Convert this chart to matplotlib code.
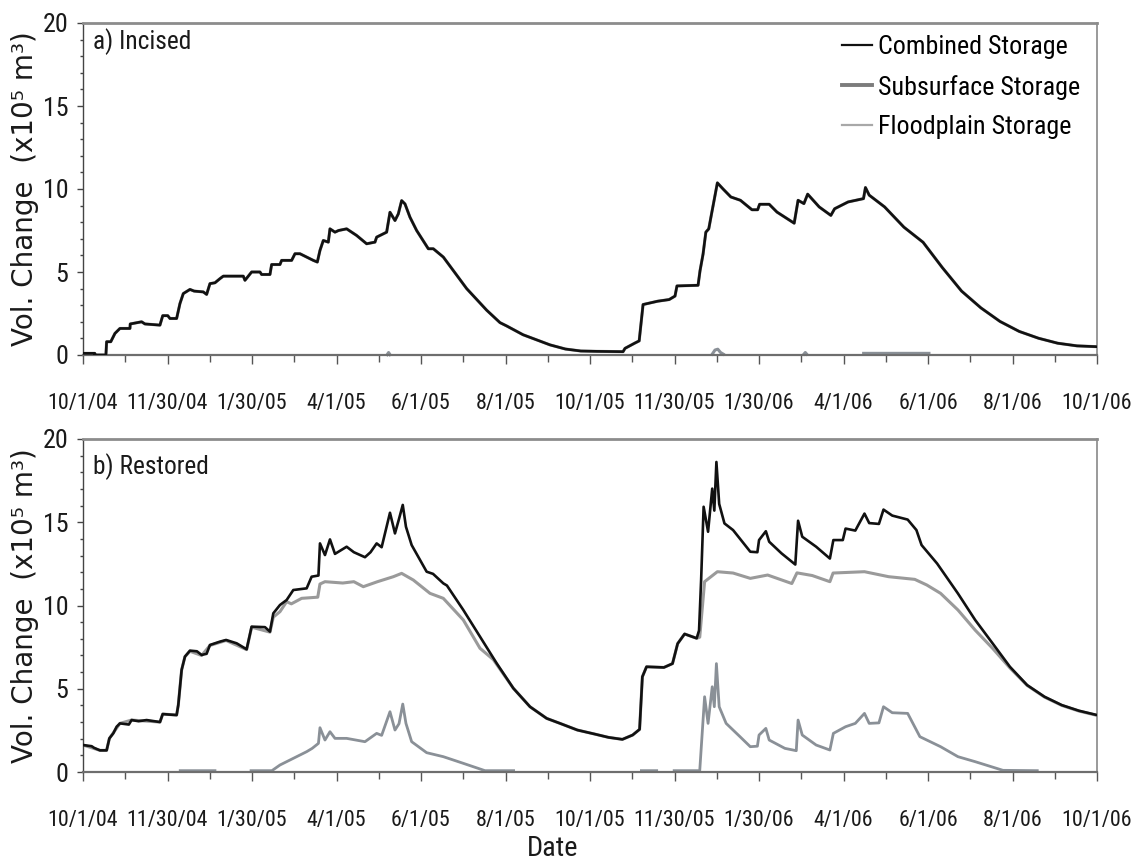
import os
import numpy as np
import matplotlib
matplotlib.use("Agg")
import matplotlib.pyplot as plt
from matplotlib import font_manager
from matplotlib.font_manager import FontProperties
from matplotlib.textpath import TextPath
from matplotlib.lines import Line2D
from matplotlib.ticker import FixedLocator, MultipleLocator

# ---------------------------------------------------------------------------
# Data: days since 10/1/04, storage change in units of 1e5 m^3
# ---------------------------------------------------------------------------
tick_labels = ["10/1/04", "11/30/04", "1/30/05", "4/1/05", "6/1/05", "8/1/05",
               "10/1/05", "11/30/05", "1/30/06", "4/1/06", "6/1/06", "8/1/06",
               "10/1/06"]

# a) Incised -- combined storage
inc_comb_day = [0, 8.5, 8.6, 16.5, 17, 20, 23, 26.6, 33.8, 34, 42.2, 44.6, 55.4,
                57.4, 61, 62.6, 67.4, 69.8, 72.2, 77, 80, 86.6, 89, 91.4, 95,
                98.6, 101, 115.4, 116.6, 119, 121.4, 127.4, 128.6, 134.6, 135.8,
                141.8, 143, 150.2, 152.6, 156.2, 165.8, 168.7, 170.6, 173, 176.6,
                177.8, 181.4, 184, 189.8, 197, 204.2, 210.2, 211.4, 216.2, 218.6,
                221, 224.6, 227, 229.4, 231.8, 235.4, 240.2, 248.6, 252.2, 259.4,
                276.2, 290.6, 300.2, 305, 316.8, 336.2, 347.3, 358.4, 370, 388.8,
                390.2, 397.1, 400.4, 403.2, 413.7, 422, 426.2, 427.6, 442.8,
                444.2, 446.4, 448.4, 450.5, 452.5, 453.9, 456.7, 460.8, 466.4,
                473.3, 481.6, 485.7, 487.1, 494, 499.6, 512, 514.8, 519, 521.7,
                530, 538.4, 541.1, 550.8, 561.9, 563.3, 566, 577.1, 591, 604.8,
                618.6, 632.5, 646.4, 660.2, 674, 687.9, 701.7, 715.6, 730]
inc_comb_val = [0.1, 0.1, 0, 0, 0.8, 0.8, 1.3, 1.6, 1.6, 1.87, 2.0, 1.87, 1.8,
                2.37, 2.37, 2.2, 2.2, 3.1, 3.7, 3.95, 3.85, 3.8, 3.65, 4.3, 4.35,
                4.6, 4.75, 4.75, 4.5, 4.75, 5.0, 5.0, 4.85, 4.85, 5.45,
                5.45, 5.7, 5.7, 6.1, 6.1, 5.7, 5.6, 6.3, 6.9, 6.8,
                7.6, 7.4, 7.5, 7.6, 7.2, 6.7, 6.8, 7.1, 7.3, 7.4,
                8.6, 8.1, 8.5, 9.3, 9.1, 8.3, 7.5, 6.4, 6.4, 5.9,
                4.0, 2.7, 1.95, 1.75, 1.22, 0.61, 0.36, 0.24, 0.22, 0.2,
                0.4, 0.71, 0.85, 3.04, 3.24, 3.34, 3.55, 4.16, 4.2,
                5.07, 6.08, 7.4, 7.6, 8.5, 9.12, 10.37, 10.0, 9.52,
                9.32, 8.75, 8.75, 9.08, 9.08, 8.61, 7.94, 9.32, 9.12, 9.69,
                8.92, 8.41, 8.81, 9.22, 9.42, 10.09, 9.63, 8.92, 7.7, 6.79,
                5.27, 3.85, 2.84, 2.02, 1.42, 1.01, 0.71, 0.55, 0.5]

# a) Incised -- subsurface storage runs on top of the combined curve
inc_sub_day = inc_comb_day
inc_sub_val = inc_comb_val

# a) Incised -- floodplain storage (only brief, small amounts; gaps = none)
inc_fp_day = [219, 220, 221, np.nan, 453, 455, 457, 459, 461, np.nan,
              519, 520, 521, np.nan, 562, 609]
inc_fp_val = [0.02, 0.15, 0.02, np.nan, 0.05, 0.3, 0.35, 0.15, 0.05, np.nan,
              0.05, 0.15, 0.05, np.nan, 0.1, 0.1]

# b) Restored -- combined storage
res_comb_day = [0, 6.2, 8, 12.2, 17, 19, 21.8, 24.2, 26.6, 33, 35, 40, 45.8,
                55.4, 57.4, 62, 67.4, 68.6, 71, 73.4, 77, 82, 85.4, 89, 91.4,
                98.6, 103, 110.6, 117.8, 121.4, 131, 134.6, 137, 141.8, 146.6,
                151.4, 161, 164.6, 169.5, 170.6, 174.2, 177.8, 181.4, 189.8, 195,
                203, 207, 211.4, 215, 221, 224.6, 227.5, 230.2, 232.5, 236.6,
                247.4, 252, 259.4, 262, 273.8, 285.8, 297.8, 309.8, 321.8, 333.8,
                343.4, 355.9, 368.3, 378.3, 388.3, 395.7, 400.7, 402.7, 405.7,
                418.2, 424.4, 428.1, 433.1, 441.8, 443.5, 445, 446.8, 450, 453,
                454.5, 456, 458, 461.8, 468, 480.4, 485.5, 486.7, 491.6, 494,
                502.9, 512.8, 514.8, 517.8, 527.8, 537.7, 540.2, 547, 549, 556,
                562.6, 566, 573, 576.3, 582.6, 593.7, 600, 603.7, 614.9, 629.9,
                642.3, 654.8, 667.3, 679.7, 692.2, 704.6, 717, 730]
res_comb_val = [1.62, 1.55, 1.45, 1.3, 1.3, 2.02, 2.32, 2.72, 2.92, 2.85, 3.12,
                3.05, 3.12, 3.0, 3.48, 3.45, 3.42, 4.02, 6.13, 6.93, 7.29, 7.25,
                7.03, 7.1, 7.63, 7.83, 7.93, 7.73, 7.37, 8.73, 8.7, 8.43, 9.53,
                10.03, 10.33, 10.93, 11.03, 11.73, 11.8, 13.73, 13.03, 13.97,
                13.1, 13.53, 13.2, 12.9, 13.2, 13.73, 13.5, 15.57, 14.33, 15.2,
                16.04, 14.73, 13.63, 12.03, 11.9, 11.33, 11.2, 9.73, 8.13, 6.53,
                5.03, 3.92, 3.22, 2.92, 2.52, 2.28, 2.08, 1.96, 2.22, 2.56, 5.72,
                6.32, 6.28, 6.51, 7.71, 8.29, 8.03, 8.5, 11.53, 15.93, 14.43,
                17.02, 15.7, 18.62, 16.1, 14.93, 14.53, 13.23, 13.2, 13.93,
                14.46, 13.83, 13.13, 12.46, 15.09, 14.13, 13.53, 12.82, 13.93,
                13.93, 14.62, 14.5, 15.52, 14.95, 14.9, 15.76, 15.4, 15.16,
                14.53, 13.63, 12.52, 10.72, 9.13, 7.73, 6.32, 5.22, 4.52, 4.02,
                3.68, 3.42]

# b) Restored -- subsurface storage
res_sub_day = [0, 12.2, 17, 19, 26.6, 35, 55.4, 57.4, 67.4, 68.6, 71, 73.4, 77,
               85.4, 91.4, 103, 117.8, 121.4, 134.6, 137, 141.8, 146.6, 150,
               157.4, 169, 170.6, 174.2, 187, 195, 201.8, 212, 223.4, 229.4,
               237.8, 249.8, 259.4, 273.8, 285.8, 295.4, 309.8, 321.8, 333.8,
               343.4, 355.9, 368.3, 378.3, 388.3, 395.7, 400.7, 402.7, 405.7,
               418.2, 424.4, 428.1, 433.1, 441.8, 444, 447.5, 456.7, 468, 480.4,
               492.9, 510.3, 514, 525, 537.7, 540, 562.6, 580, 598.8, 607.5,
               617.4, 629.9, 642.3, 654.8, 667.3, 679.7, 692.2, 704.6, 717, 730]
res_sub_val = [1.62, 1.3, 1.3, 2.02, 2.92, 3.12, 3.0, 3.48, 3.42, 4.02, 6.13,
               6.93, 7.25, 7.0, 7.6, 7.9, 7.35, 8.7, 8.4, 9.3, 9.63, 10.23, 10.1,
               10.43, 10.5, 11.29, 11.43, 11.35, 11.43, 11.13, 11.43, 11.73,
               11.93, 11.53, 10.73, 10.43, 9.13, 7.43, 6.75, 5.03, 3.92, 3.22,
               2.92, 2.52, 2.28, 2.08, 1.96, 2.22, 2.56, 5.72, 6.32, 6.28, 6.51,
               7.71, 8.29, 8.03, 8.1, 11.43, 12.03, 11.95, 11.63, 11.83, 11.32,
               11.96, 11.8, 11.43, 11.95, 12.03, 11.73, 11.57, 11.23, 10.73,
               9.73, 8.52, 7.43, 6.25, 5.2, 4.5, 4.0, 3.66, 3.4]

# b) Restored -- floodplain storage (gaps = no floodplain storage)
res_fp_day = [70, 95, np.nan,
              121, 136, 141.8, 151.4, 161, 165, 169.5, 170.6, 174.2, 177.8,
              181.4, 189.8, 203, 211.4, 215, 221, 224.6, 227.5, 230.2, 232.5,
              236.6, 247.4, 259.4, 273.8, 289.4, 310, np.nan,
              402, 413, np.nan,
              425.6, 444, 447.5, 450, 453, 454.5, 456, 458, 463, 473, 480.4,
              485.5, 486.7, 491.6, 494, 505.3, 513.5, 514.8, 517.8, 527.8,
              537.7, 540.2, 549, 556, 562.6, 566, 573, 576.3, 582.6, 593.7,
              602.5, 617.4, 629.9, 642.3, 662.3, 687]
res_fp_val = [0.08, 0.08, np.nan,
              0.08, 0.08, 0.42, 0.82, 1.22, 1.42, 1.72, 2.66, 1.92, 2.42,
              2.02, 2.02, 1.82, 2.32, 2.2, 3.62, 2.52, 2.9, 4.08, 2.92,
              1.82, 1.16, 0.92, 0.52, 0.08, 0.08, np.nan,
              0.08, 0.08, np.nan,
              0.08, 0.08, 4.52, 2.92, 5.12, 3.92, 6.51, 3.92, 2.92, 2.12, 1.52,
              1.55, 2.22, 2.62, 1.92, 1.42, 1.28, 3.12, 2.22, 1.62,
              1.32, 2.32, 2.72, 2.92, 3.52, 2.92, 2.95, 3.92, 3.56, 3.52,
              2.12, 1.52, 0.92, 0.62, 0.1, 0.08]

series_names = ["Combined Storage", "Subsurface Storage", "Floodplain Storage"]
panel_titles = ["a) Incised", "b) Restored"]

# ---------------------------------------------------------------------------
# Fonts: a narrow sans, sized so each text run has the intended width
# ---------------------------------------------------------------------------
DPI = 100

def find_font_file(candidates):
    by_base = {}
    for f in font_manager.fontManager.ttflist:
        by_base.setdefault(os.path.basename(f.fname).lower(), f.fname)
    for c in candidates:
        if c.lower() in by_base:
            return by_base[c.lower()]
    return None

narrow_file = find_font_file([
    "NotoSans-ExtraCondensed.ttf",
    "LiberationSansNarrow-Regular.ttf",
    "NotoSans-Condensed.ttf",
    "RobotoCondensed-Regular.ttf",
    "Roboto_Condensed-Regular.ttf",
    "OpenSans_Condensed-Regular.ttf",
    "NotoSans-SemiCondensed.ttf",
    "DejaVuSansCondensed.ttf",
])

def narrow(size):
    if narrow_file:
        return FontProperties(fname=narrow_file, size=size)
    return FontProperties(family="DejaVu Sans", stretch="condensed", size=size)

def fitted(text, width_px):
    """Narrow font whose rendering of `text` is about width_px wide."""
    probe = TextPath((0, 0), text, prop=narrow(100))
    w = probe.get_extents().width * DPI / 72.0
    return narrow(100.0 * width_px / w)

label_font = FontProperties(family="DejaVu Sans", size=20)
xtick_font = fitted("11/30/04", 79)
ytick_font = fitted("20", 23)
title_font = fitted("a) Incised", 95)
legend_font = fitted("Combined Storage", 187)
date_font = fitted("Date", 48)

# ---------------------------------------------------------------------------
# Figure
# ---------------------------------------------------------------------------
W, H = 1143, 867
fig = plt.figure(figsize=(W / DPI, H / DPI), dpi=DPI)
fig.patch.set_facecolor("white")

def frac_box(left, top, right, bottom):
    return [left / W, 1 - bottom / H, (right - left) / W, (bottom - top) / H]

ax_a = fig.add_axes(frac_box(83, 23, 1097, 355))
ax_b = fig.add_axes(frac_box(83, 439, 1097, 772))

COMB_C = "#111111"
SUB_C = "#9a9a9a"
FP_C = "#8a9097"
TEXT_C = "#1a1a1a"

span = 730.0
major_pos = list(np.linspace(0, span, len(tick_labels)))
minor_pos = [p + span / 24 for p in major_pos[:-1]]

def style_axes(ax, title, title_y):
    ax.set_xlim(0, span)
    ax.set_ylim(0, 20)
    ax.xaxis.set_major_locator(FixedLocator(major_pos))
    ax.xaxis.set_minor_locator(FixedLocator(minor_pos))
    ax.set_xticklabels(tick_labels)
    ax.yaxis.set_major_locator(MultipleLocator(5))
    ax.yaxis.set_minor_locator(MultipleLocator(1))
    ax.tick_params(axis="x", which="major", direction="out", length=6.5,
                   width=1.0, color="#555555", pad=21, labelcolor=TEXT_C)
    ax.tick_params(axis="x", which="minor", direction="out", length=5,
                   width=1.0, color="#555555")
    ax.tick_params(axis="y", which="major", direction="out", length=4.5,
                   width=1.0, color="#444444", pad=6, labelcolor=TEXT_C)
    ax.tick_params(axis="y", which="minor", direction="out", length=2.5,
                   width=1.0, color="#444444")
    for lbl in ax.get_xticklabels():
        lbl.set_fontproperties(xtick_font)
    for lbl in ax.get_yticklabels():
        lbl.set_fontproperties(ytick_font)
    ax.spines["top"].set_color("#8c8c8c")
    ax.spines["top"].set_linewidth(2.0)
    ax.spines["right"].set_color("#9a9a9a")
    ax.spines["right"].set_linewidth(1.4)
    ax.spines["left"].set_color("#444444")
    ax.spines["left"].set_linewidth(1.0)
    ax.spines["bottom"].set_color("#6e6e6e")
    ax.spines["bottom"].set_linewidth(1.6)
    ax.set_ylabel("Vol. Change  (x10\u2075 m\u00b3)", fontproperties=label_font,
                  color=TEXT_C)
    ax.yaxis.set_label_coords(-0.043, 0.5)
    ax.text(0.0099, title_y, title, transform=ax.transAxes, ha="left",
            va="top", fontproperties=title_font, color=TEXT_C)

style_axes(ax_a, panel_titles[0], 0.983)
style_axes(ax_b, panel_titles[1], 0.957)

# Panel a
ax_a.plot(inc_sub_day, inc_sub_val, color=SUB_C, lw=2.2, zorder=2)
ax_a.plot(inc_fp_day, inc_fp_val, color=FP_C, lw=2.2, zorder=2, clip_on=False)
ax_a.plot(inc_comb_day, inc_comb_val, color=COMB_C, lw=1.9, zorder=3)

# Panel b
ax_b.plot(res_sub_day, res_sub_val, color=SUB_C, lw=2.2, zorder=2)
ax_b.plot(res_fp_day, res_fp_val, color=FP_C, lw=2.0, zorder=2, clip_on=False)
ax_b.plot(res_comb_day, res_comb_val, color=COMB_C, lw=1.9, zorder=3)

# Legend (row pitch about 40 px)
leg_size = legend_font.get_size_in_points()
leg_em_px = leg_size * DPI / 72.0
ax_a.legend([Line2D([], [], color="#111111", lw=1.6),
             Line2D([], [], color="#7c7c7c", lw=2.8),
             Line2D([], [], color="#a8a8a8", lw=1.6)],
            series_names, loc="upper right",
            bbox_to_anchor=(0.983, 0.965), frameon=False, prop=legend_font,
            handlelength=30.0 / leg_em_px, handletextpad=6.0 / leg_em_px,
            labelspacing=max(0.05, (42.0 - leg_em_px) / leg_em_px),
            borderpad=0, borderaxespad=0)

fig.text(553 / W, 1 - 848 / H, "Date", ha="center", va="center",
         fontproperties=date_font, color=TEXT_C)

fig.savefig("out.png", dpi=DPI, facecolor="white")
